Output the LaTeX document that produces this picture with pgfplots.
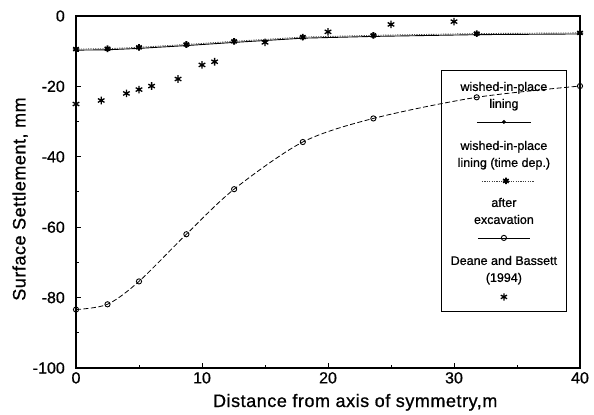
\documentclass[border=0pt]{standalone}
\usepackage{fontspec}
\setmainfont{Liberation Sans}[FakeBold=0.8]
\newfontfamily\labelfont[LetterSpace=3,FakeBold=0.8]{Liberation Sans}
\usepackage{pgfplots}
\pgfplotsset{compat=1.18}
\newcommand\legfont{\fontsize{12.5bp}{15bp}\selectfont}
\pgfplotsset{
 legA/.style={legend image code/.code={
   \path[draw=none,fill=none] (-62bp,-29.5bp) rectangle (62bp,51bp);
   \draw[solid,black,line width=0.8bp] (-27bp,0bp) -- (27bp,0bp);
   \draw[solid,black,line width=0.8bp] plot[mark=*,mark size=1.5bp] coordinates {(0bp,0bp)};
   \node[overlay,anchor=base,inner sep=0pt,font=\legfont,black,draw=none] at (0bp,31bp) {wished-in-place};
   \node[overlay,anchor=base,inner sep=0pt,font=\legfont,black,draw=none] at (0bp,14bp) {lining};
 }},
 legB/.style={legend image code/.code={
   \path[draw=none,fill=none] (-62bp,-28.5bp) rectangle (62bp,29.5bp);
   \draw[black!75,line width=0.8bp,dash pattern=on 1.2bp off 1.2bp] (-22bp,0bp) -- (30bp,0bp);
   \draw[solid,black,line width=1.8bp] plot[mark=asterisk,mark size=3.3bp] coordinates {(2bp,0bp)};
   \node[overlay,anchor=base,inner sep=0pt,font=\legfont,black,draw=none] at (0bp,31bp) {wished-in-place};
   \node[overlay,anchor=base,inner sep=0pt,font=\legfont,black,draw=none] at (0bp,14bp) {lining (time dep.)};
 }},
 legC/.style={legend image code/.code={
   \path[draw=none,fill=none] (-62bp,-29.5bp) rectangle (62bp,28.5bp);
   \draw[solid,black,line width=0.8bp] (-26bp,0bp) -- (26bp,0bp);
   \draw[solid,black,line width=0.9bp] plot[mark=o,mark size=2.6bp,mark options={fill=white}] coordinates {(0bp,0bp)};
   \node[overlay,anchor=base,inner sep=0pt,font=\legfont,black,draw=none] at (0bp,31bp) {after};
   \node[overlay,anchor=base,inner sep=0pt,font=\legfont,black,draw=none] at (0bp,14bp) {excavation};
 }},
 legD/.style={legend image code/.code={
   \path[draw=none,fill=none] (-62bp,-15bp) rectangle (62bp,29.5bp);
   \draw[solid,black,line width=1.2bp] plot[mark=asterisk,mark size=3.6bp] coordinates {(0bp,0bp)};
   \node[overlay,anchor=base,inner sep=0pt,font=\legfont,black,draw=none] at (0bp,32bp) {Deane and Bassett};
   \node[overlay,anchor=base,inner sep=0pt,font=\legfont,black,draw=none] at (0bp,15bp) {(1994)};
 }},
}
\begin{document}
\begin{tikzpicture}
\begin{axis}[
 name=ax,
 scale only axis, width=504bp, height=352bp,
 xmin=0, xmax=40, ymin=-100, ymax=0,
 xtick={0,10,20,30,40}, ytick={-100,-80,-60,-40,-20,0},
 minor x tick num=1, minor y tick num=1,
 tick align=inside, tick pos=left,
 major tick length=5bp, minor tick length=3bp,
 axis line style={line width=1.2bp},
 every tick/.style={black, line width=1bp},
 tick label style={font=\fontsize{16bp}{19bp}\selectfont, inner sep=0pt},
 /pgf/number format/assume math mode=true,
 xticklabel shift=4bp, yticklabel shift=11bp,
 xlabel={Distance from axis of symmetry,m},
 ylabel={Surface Settlement, mm},
 every axis x label/.style={at={(axis description cs:0.554,-0.1108)}, anchor=base, font=\labelfont\fontsize{18bp}{21bp}\selectfont},
 every axis y label/.style={at={(axis description cs:-0.111,0.48)}, anchor=center, rotate=90, font=\labelfont\fontsize{18bp}{21bp}\selectfont},
 legend style={at={(axis description cs:0.726,0.844)}, anchor=north west, draw=black, line width=1bp, fill=none, inner sep=0pt, outer sep=0pt, column sep=0pt, row sep=0pt, nodes={inner sep=0pt, text depth=0pt}},
 clip=false,
]
\addplot[black, line width=0.9bp, mark=*, mark size=1.5bp, legA] coordinates {
 (0,-9.7) (2.5,-9.6) (5,-9.2) (8.76,-8.4) (12.55,-7.5) (18,-6.3) (23.6,-5.8) (31.8,-5.3) (40,-5.1)};
\addlegendentry{}
\addplot[black!70, line width=0.9bp, dash pattern=on 1.2bp off 1.2bp, mark=asterisk, mark size=3.3bp, mark options={solid, black, line width=1.8bp}, legB] coordinates {
 (0,-9.4) (2.5,-9.3) (5,-8.9) (8.76,-8.1) (12.55,-7.2) (18,-6.0) (23.6,-5.5) (31.8,-5.0) (40,-4.8)};
\addlegendentry{}
\addplot[black, line width=0.8bp, dash pattern=on 5bp off 2.5bp, smooth, mark=o, mark size=2.6bp, mark options={solid, fill=white, line width=0.9bp}, legC] coordinates {
 (0,-83.4) (2.5,-81.9) (5,-75.4) (8.76,-62) (12.55,-49.2) (18,-35.8) (23.6,-29.1) (31.8,-23.1) (40,-19.9)};
\addlegendentry{}
\addplot[black, only marks, mark=asterisk, mark size=3.8bp, mark options={line width=1.3bp}, legD] coordinates {
 (0,-25) (2.0,-24) (4.0,-22) (5.0,-20.9) (6.0,-19.9) (8.1,-17.9) (10,-13.9) (11,-13) (15,-7.5) (20,-4.5) (25,-2.4) (30,-1.6)};
\addlegendentry{}
\end{axis}
\pgfresetboundingbox
\path[use as bounding box] ([shift={(-76bp,-47bp)}]ax.south west) rectangle ([shift={(14bp,16bp)}]ax.north east);
\end{tikzpicture}
\end{document}
